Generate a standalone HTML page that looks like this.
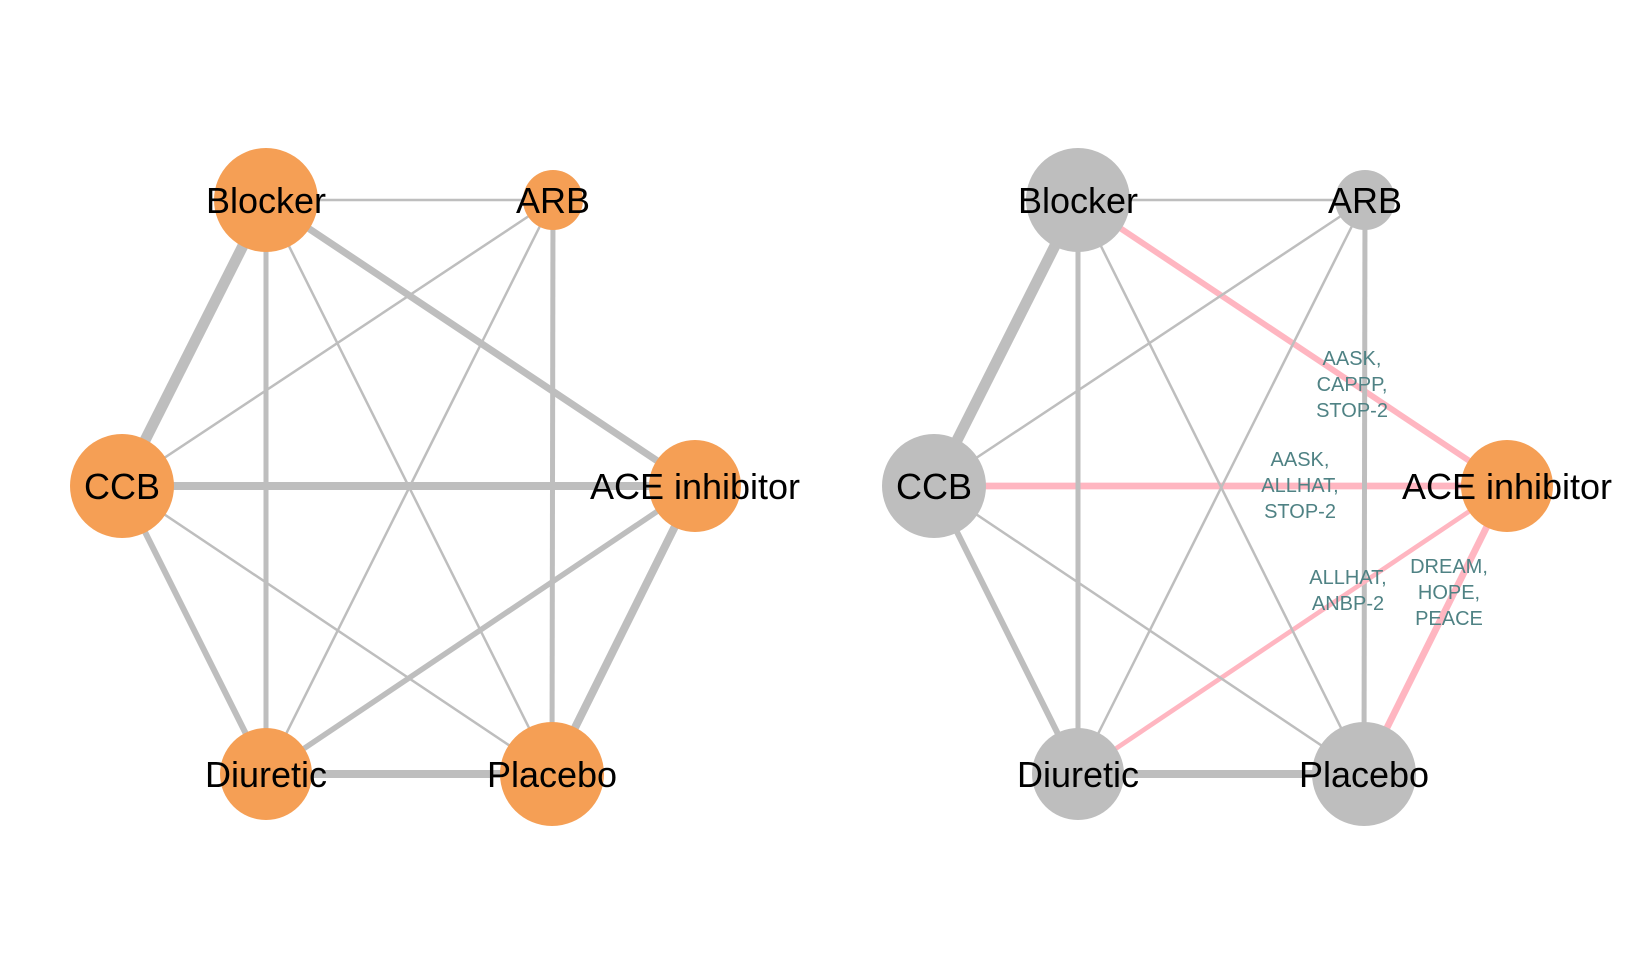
<!DOCTYPE html>
<html><head><meta charset="utf-8"><style>
html,body{margin:0;padding:0;background:#fff;}
svg{display:block;font-family:"Liberation Sans",Arial,sans-serif;}
</style></head><body>
<svg id="chart" width="1628" height="968" viewBox="0 0 1628 968"></svg>
<script>
const nodeNames = ["Blocker","ARB","CCB","ACE inhibitor","Diuretic","Placebo"];
const nodeX = [266,553,122,695,266,552];
const nodeY = [200,200,486,486,774,774];
const nodeR = [52,30,52,46,46,52];
const edgeFrom = [0,0,2,3,4,2,0,1,4,0,1,1,0,2];
const edgeTo   = [2,3,3,5,5,4,4,5,3,1,2,4,5,5];
const edgeWidth = [11,7,8,8,8,6,5,5,5.5,2.5,2.5,2.5,2.5,2.5];
const focusNode = 3;
const studyLabels = [
  {edge:[0,3], lines:["AASK,","CAPPP,","STOP-2"], x:1352, y:358},
  {edge:[2,3], lines:["AASK,","ALLHAT,","STOP-2"], x:1300, y:459},
  {edge:[4,3], lines:["ALLHAT,","ANBP-2"], x:1348, y:577},
  {edge:[3,5], lines:["DREAM,","HOPE,","PEACE"], x:1449, y:566}
];
const NS="http://www.w3.org/2000/svg";
const svg=document.getElementById('chart');
function mk(tag,attrs,parent){const e=document.createElementNS(NS,tag);for(const k in attrs)e.setAttribute(k,attrs[k]);(parent||svg).appendChild(e);return e;}
function drawPanel(off,highlight,pname){
  const g=mk('g',{});
  
  
  for(let i=0;i<edgeFrom.length;i++){
    const a=edgeFrom[i],b=edgeTo[i];
    const hl=highlight&&(a===focusNode||b===focusNode);
    const l=mk('line',{x1:nodeX[a]+off,y1:nodeY[a],x2:nodeX[b]+off,y2:nodeY[b],stroke:hl?'#FFB6C1':'#BEBEBE','stroke-width':hl?Math.max(4,edgeWidth[i]*0.85):edgeWidth[i]},g);
    
    
  }
  for(let i=0;i<nodeNames.length;i++){
    const fill=highlight?(i===focusNode?'#F59F55':'#BEBEBE'):'#F59F55';
    const e=mk('circle',{cx:nodeX[i]+off,cy:nodeY[i],r:nodeR[i],fill:fill},g);
    
    
  }
  for(let i=0;i<nodeNames.length;i++){
    const t=mk('text',{x:nodeX[i]+off,y:nodeY[i]+13,'text-anchor':'middle','font-size':36,fill:'#000'},g);
    t.textContent=nodeNames[i];
    
    
  }
  if(highlight){
    for(const s of studyLabels){
      const t=mk('text',{x:s.x,'text-anchor':'middle','font-size':20,fill:'#4F8284'},g);
      
      
      s.lines.forEach((ln,k)=>{const ts=mk('tspan',{x:s.x,y:s.y+7+k*26},t);ts.textContent=ln;});
    }
  }
}
drawPanel(0,false,'left-network');
drawPanel(812,true,'right-network');
</script>
</body></html>
